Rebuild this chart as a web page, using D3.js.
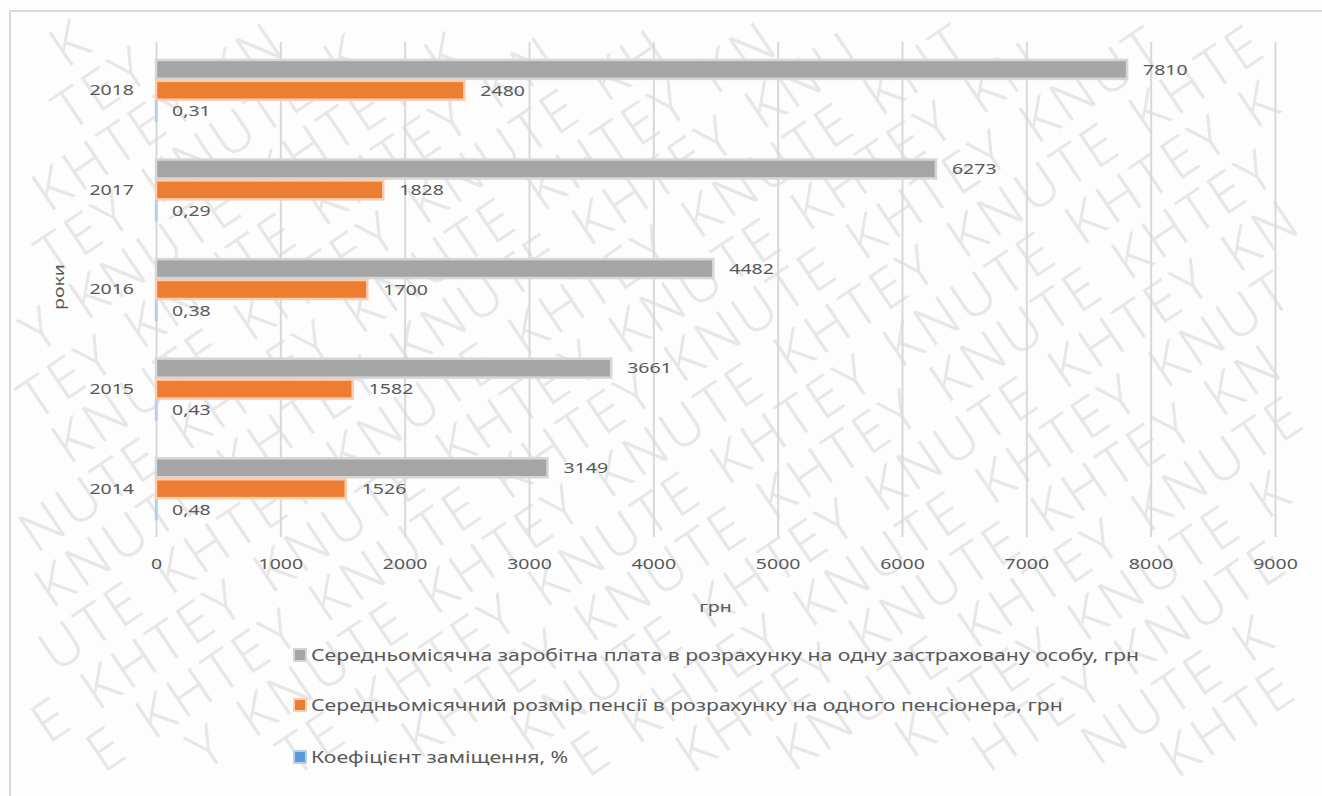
<!DOCTYPE html>
<html><head><meta charset="utf-8">
<script src="https://cdn.jsdelivr.net/npm/d3@7"></script>
<style>
html,body{margin:0;padding:0;background:#fdfdfd;}
svg{display:block;}
text{font-family:"Noto Sans","Liberation Sans",sans-serif;}
</style></head>
<body>
<svg id="chart" width="1322" height="796"></svg>
<script>
const years = ["2014","2015","2016","2017","2018"];
const salary = [3149, 3661, 4482, 6273, 7810];
const pension = [1526, 1582, 1700, 1828, 2480];
const coef = [0.48, 0.43, 0.38, 0.29, 0.31];
const xTicks = [0,1000,2000,3000,4000,5000,6000,7000,8000,9000];
const seriesNames = [
  "Середньомісячна заробітна плата в розрахунку на одну застраховану особу, грн",
  "Середньомісячний розмір пенсії в розрахунку на одного пенсіонера, грн",
  "Коефіцієнт заміщення, %"
];
const seriesKeys = ["salary","pension","coef"];
const seriesValues = [salary, pension, coef];
const seriesFill = ["#a5a5a5","#ed7d31","#5b9bd5"];
const seriesEdge = ["#d6d6d6","#f8cdb0","#b4d0ec"];
const yTitle = "роки";
const xTitle = "грн";
const watermarkWords = ["KNUTE","KHTEY"];

const svg = d3.select("#chart");
const W = 1322, H = 796;
const STRETCH = 1.3;
function stretch(sel, f){
  const k = f || STRETCH;
  sel.each(function(){
    const len = this.getComputedTextLength();
    d3.select(this).attr("textLength", len*k).attr("lengthAdjust","spacingAndGlyphs");
  });
}

svg.append("rect").attr("width",W).attr("height",H).attr("fill","#fdfdfd");

// ---- watermark (word by word; single letters near edges so nothing is cut) ----
(function(){
  const fs = 56, ls = 4, ang = -34, cx = 661, cy = 398;
  const a = ang*Math.PI/180, ca = Math.cos(a), sa = Math.sin(a);
  const asc = 1.07*fs, desc = 0.3*fs;
  const tmp = svg.append("text").attr("font-size",fs).attr("font-weight",300);
  const measure = s => { tmp.text(s); return tmp.node().getComputedTextLength(); };
  const letterW = {};
  "KNUTEHY".split("").forEach(c => letterW[c] = measure(c) + ls);
  const spaceW = measure("\u00a0") + ls + 6;
  tmp.remove();
  const wm = svg.append("g").attr("transform",`rotate(${ang} ${cx} ${cy})`)
    .attr("fill","#e7e7e7").attr("font-size",fs).attr("font-weight",300);
  function inside(x0, w, yb){
    const pts = [[x0,yb-asc],[x0+w,yb-asc],[x0,yb+desc],[x0+w,yb+desc]];
    return pts.every(([px,py])=>{
      const sx = cx + (px-cx)*ca - (py-cy)*sa;
      const sy = cy + (px-cx)*sa + (py-cy)*ca;
      return sx>=0.5 && sx<=W-0.5 && sy>=0.5 && sy<=H-0.5;
    });
  }
  const rowGap = 55;
  for (let r=-14; r<=14; r++){
    const yb = cy + r*rowGap;
    let xp = -600 + ((r%3+3)%3)*95;
    let wi = ((r%2)+2)%2;
    while (xp < 1900){
      const word = watermarkWords[wi%2];
      const letters = word.split("");
      const ww = letters.reduce((s,c)=>s+letterW[c],0);
      if (inside(xp, ww, yb)){
        wm.append("text").attr("x",xp).attr("y",yb).attr("letter-spacing",ls).text(word);
      } else {
        let lx = xp;
        letters.forEach(c=>{
          if (inside(lx, letterW[c]-ls, yb)){
            wm.append("text").attr("x",lx).attr("y",yb).text(c);
          }
          lx += letterW[c];
        });
      }
      xp += ww + spaceW;
      wi++;
    }
  }
})();

// outer border
svg.append("rect").attr("x",10).attr("y",11).attr("width",1340).attr("height",820)
  .attr("fill","none").attr("stroke","#d9d9d9").attr("stroke-width",2);

const x = d3.scaleLinear().domain([0,9000]).range([156,1275]);
const y = d3.scaleBand().domain(years.slice().reverse()).range([42,537])
  .paddingInner(0.37).paddingOuter(0.17);
const ys = d3.scaleBand().domain(seriesKeys).range([0,y.bandwidth()]);

// gridlines + x tick labels
const xAxis = d3.axisBottom(x).tickValues(xTicks).tickSize(-(537-42)).tickFormat(d=>String(d));
const gx = svg.append("g").attr("transform","translate(0,537)").call(xAxis);
gx.select(".domain").remove();
gx.selectAll(".tick line").attr("stroke","#d9d9d9").attr("stroke-width",2);
gx.selectAll(".tick text").attr("fill","#595959").attr("font-size",15).attr("dy","1.9em")
  .call(stretch);

// y axis labels
const yAxis = d3.axisLeft(y).tickSize(0).tickPadding(22);
const gy = svg.append("g").attr("transform","translate(156,0)").call(yAxis);
gy.select(".domain").remove();
gy.selectAll(".tick text").attr("fill","#595959").attr("font-size",15).call(stretch);

// bars + value labels
const fmt = v => (v < 10 ? d3.format(".2f")(v).replace(".", ",") : String(v));
seriesKeys.forEach((k,si)=>{
  const g = svg.append("g");
  const data = years.map((yr,i)=>({yr, v:seriesValues[si][i]}));
  g.selectAll("rect").data(data).join("rect")
    .attr("x", x(0))
    .attr("y", d=>y(d.yr)+ys(k)+1)
    .attr("width", d=>Math.max(0.5, x(d.v)-x(0)))
    .attr("height", ys.bandwidth()-2)
    .attr("fill", seriesFill[si])
    .attr("stroke", seriesEdge[si]).attr("stroke-width",2.5);
  g.selectAll("text").data(data).join("text")
    .attr("x", d=>x(d.v)+16)
    .attr("y", d=>y(d.yr)+ys(k)+ys.bandwidth()/2)
    .attr("dy","0.35em")
    .attr("fill","#595959").attr("font-size",15)
    .text(d=>fmt(d.v))
    .call(stretch);
});

// axis titles
svg.append("text").attr("transform","translate(64,287) rotate(-90)")
  .attr("text-anchor","middle").attr("fill","#595959").attr("font-size",15)
  .text(yTitle).call(stretch);
svg.append("text").attr("x",(156+1275)/2).attr("y",612)
  .attr("text-anchor","middle").attr("fill","#595959").attr("font-size",15)
  .text(xTitle).call(stretch);

// legend
const legY = [655,705,757];
const legendWidth = 828;
let legFactor = null;
seriesNames.forEach((name,i)=>{
  const g = svg.append("g").attr("transform",`translate(294,${legY[i]})`);
  g.append("rect").attr("x",0).attr("y",-6).attr("width",12).attr("height",12)
    .attr("fill",seriesFill[i]).attr("stroke",seriesEdge[i]).attr("stroke-width",2);
  const t = g.append("text").attr("x",17).attr("y",0).attr("dy","0.35em")
    .attr("fill","#595959").attr("font-size",16).text(name);
  if (legFactor === null) legFactor = legendWidth / t.node().getComputedTextLength();
  t.call(stretch, legFactor);
});
</script>
</body></html>
